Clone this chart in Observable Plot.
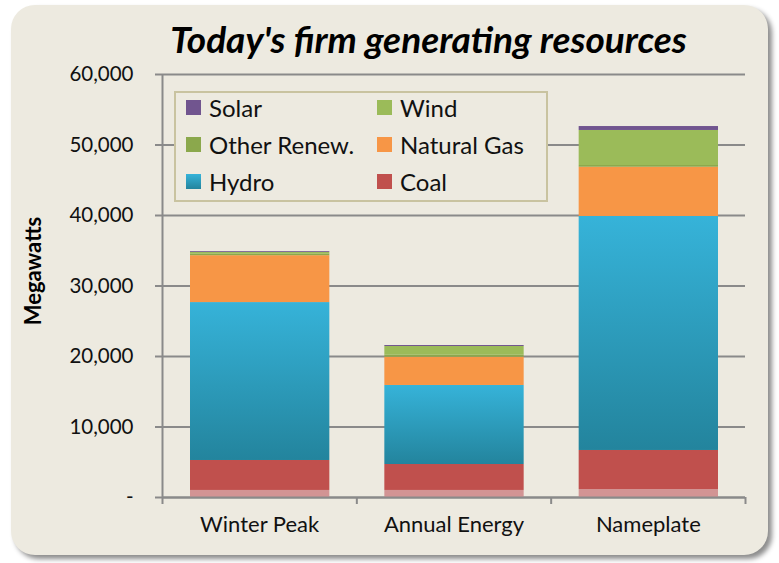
<!DOCTYPE html>
<html>
<head>
<meta charset="utf-8">
<script src="https://cdn.jsdelivr.net/npm/d3@7"></script>
<script src="https://cdn.jsdelivr.net/npm/@observablehq/plot@0.6"></script>
<style>
  html, body { margin: 0; padding: 0; background: #ffffff; }
  #wrap { position: relative; width: 779px; height: 563px; overflow: hidden; font-family: Lato, "Open Sans", sans-serif; }
  #panel { position: absolute; left: 11px; top: 5px; width: 757px; height: 550px; border-radius: 24px; background: #EDEAE0; box-shadow: 4px 4px 5px rgba(0,0,0,0.45); z-index: 0; }
  #title { position: relative; z-index: 1; height: 58px; box-sizing: border-box; padding-top: 20px; padding-left: 78px; text-align: center; font-size: 37px; line-height: 1; font-weight: 700; font-style: italic; color: #000; white-space: nowrap; }
  #chart { position: relative; z-index: 1; }
  #legend { position: absolute; z-index: 2; left: 174px; top: 91px; width: 374px; height: 111px; box-sizing: border-box; border: 2px solid #C9C3A0; background: #EDEAE0; }
  .item { position: absolute; display: flex; align-items: center; font-size: 24px; color: #111; white-space: nowrap; }
  .sw { width: 15px; height: 15px; margin-right: 8px; flex: none; }
</style>
</head>
<body>
<div id="wrap">
  <div id="panel"></div>
  <div id="title"></div>
  <div id="chart"></div>
  <div id="legend"></div>
</div>
<script>
const titleText = "Today's firm generating resources";
const yLabel = "Megawatts";
const categories = ["Winter Peak", "Annual Energy", "Nameplate"];
// stacking order bottom -> top
const seriesNames = ["Other", "Coal", "Hydro", "Natural Gas", "Other Renew.", "Wind", "Solar"];
const otherVals      = [1000, 1000, 1130];
const coalVals       = [4250, 3680, 5540];
const hydroVals      = [22400, 11210, 33190];
const gasVals        = [6650, 4010, 6990];
const otherRenewVals = [200, 280, 240];
const windVals       = [250, 1240, 4970];
const solarVals      = [120, 140, 560];
const yTicks = [0, 10000, 20000, 30000, 40000, 50000, 60000];
const legendOrder = ["Solar", "Wind", "Other Renew.", "Natural Gas", "Hydro", "Coal"];

const seriesValues = [otherVals, coalVals, hydroVals, gasVals, otherRenewVals, windVals, solarVals];
const colors = {
  "Other": "#D29494",
  "Coal": "#C0504D",
  "Hydro": "url(#hydroGrad)",
  "Natural Gas": "#F79646",
  "Other Renew.": "#8BA84C",
  "Wind": "#9BBB59",
  "Solar": "#71558F"
};
const legendColors = Object.assign({}, colors, {"Hydro": "linear-gradient(#36B3D9, #23849D)"});

const data = [];
seriesNames.forEach((s, k) => {
  categories.forEach((c, i) => {
    data.push({series: s, category: c, idx: i, value: seriesValues[k][i]});
  });
});

document.getElementById("title").textContent = titleText;

const grid = "#8A8A8A";
const chart = Plot.plot({
  width: 779,
  height: 505,
  marginTop: 16,
  marginBottom: 66,
  marginLeft: 162,
  marginRight: 34,
  style: {background: "transparent", color: "#111", fontFamily: "Lato, 'Open Sans', sans-serif", fontSize: "20.5px"},
  x: {domain: [0, categories.length], axis: null},
  y: {domain: [0, 60000], axis: null},
  color: {domain: seriesNames, range: seriesNames.map(s => colors[s])},
  marks: [
    Plot.gridY(yTicks, {stroke: grid, strokeOpacity: 1, strokeWidth: 2}),
    Plot.axisY(yTicks, {tickSize: 7, tickPadding: 22, stroke: grid, strokeWidth: 2, label: null,
      tickFormat: d => d === 0 ? "-" : d3.format(",")(d)}),
    Plot.rectY(data, {x1: "idx", x2: d => d.idx + 1, y: "value", fill: "series", insetLeft: 28, insetRight: 27}),
    Plot.ruleX([0], {stroke: grid, strokeWidth: 2}),
    Plot.ruleY([0], {stroke: grid, strokeWidth: 2}),
    Plot.axisX([0, 1, 2, 3], {tickSize: 7, stroke: grid, strokeWidth: 2, tickFormat: () => "", label: null}),
    Plot.text(categories, {x: (d, i) => i + 0.5, frameAnchor: "bottom", dy: 34, fontSize: 22, fill: "#111"}),
    Plot.text([yLabel], {frameAnchor: "left", textAnchor: "middle", rotate: -90, dx: -129, dy: -15, fontWeight: "bold", fontSize: 22, fill: "#000"})
  ]
});

const defs = d3.select(chart).insert("defs", ":first-child");
const g = defs.append("linearGradient").attr("id", "hydroGrad").attr("x1", 0).attr("y1", 0).attr("x2", 0).attr("y2", 1);
g.append("stop").attr("offset", "0%").attr("stop-color", "#36B3D9");
g.append("stop").attr("offset", "100%").attr("stop-color", "#23849D");

document.getElementById("chart").appendChild(chart);

const legend = document.getElementById("legend");
legendOrder.forEach((s, i) => {
  const row = Math.floor(i / 2), col = i % 2;
  const item = document.createElement("div");
  item.className = "item";
  item.style.left = (col === 0 ? 10 : 201) + "px";
  item.style.top = (-1 + row * 37) + "px";
  item.style.height = "30px";
  const sw = document.createElement("span");
  sw.className = "sw";
  sw.style.background = legendColors[s];
  const tx = document.createElement("span");
  tx.textContent = s;
  item.appendChild(sw);
  item.appendChild(tx);
  legend.appendChild(item);
});
</script>
</body>
</html>
